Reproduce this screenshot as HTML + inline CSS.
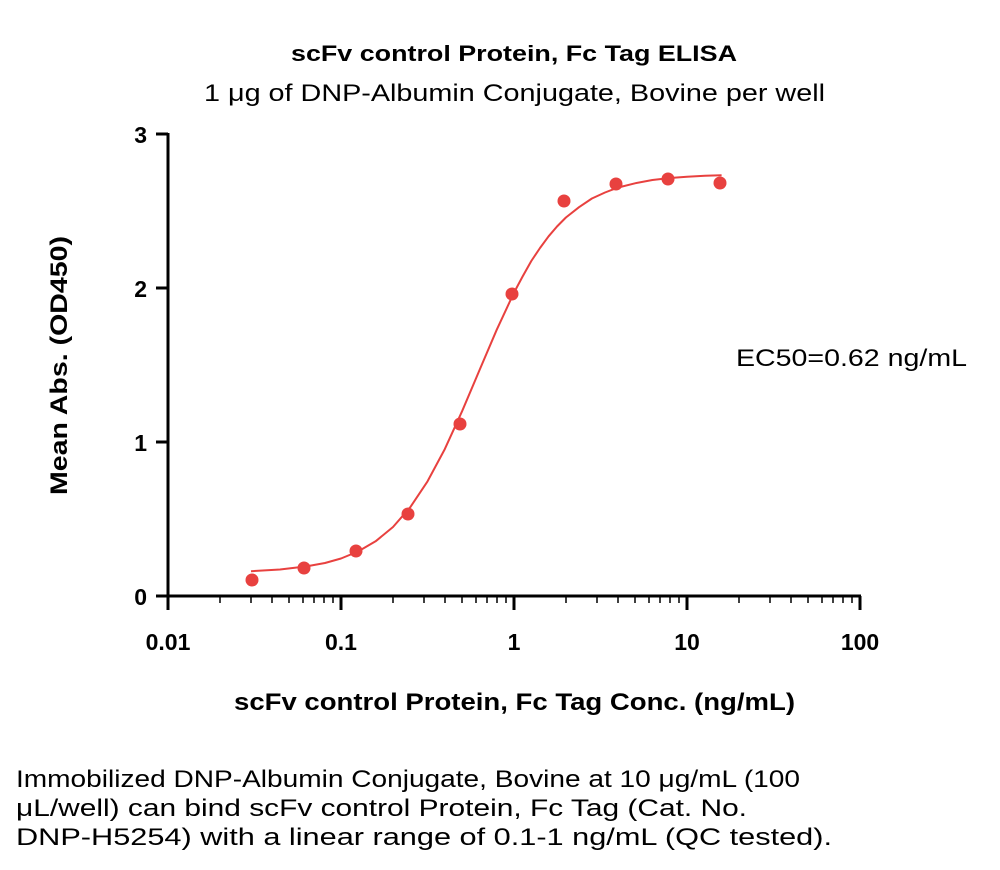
<!DOCTYPE html>
<html><head><meta charset="utf-8"><style>
html,body{margin:0;padding:0;background:#fff;}
body{width:1000px;height:865px;overflow:hidden;}
</style></head><body>
<svg width="1000" height="865" xmlns="http://www.w3.org/2000/svg" font-family="Liberation Sans, DejaVu Sans, sans-serif">
<text x="291" y="61" font-size="22" font-weight="bold" textLength="446" lengthAdjust="spacingAndGlyphs">scFv control Protein, Fc Tag ELISA</text>
<text x="204" y="101" font-size="24" textLength="621" lengthAdjust="spacingAndGlyphs">1 μg of DNP-Albumin Conjugate, Bovine per well</text>
<g stroke="#000" stroke-width="3" fill="none">
<line x1="168" y1="133" x2="168" y2="597"/>
<line x1="167" y1="596" x2="861" y2="596"/>
<line x1="156" y1="134" x2="168" y2="134"/>
<line x1="156" y1="288" x2="168" y2="288"/>
<line x1="156" y1="442" x2="168" y2="442"/>
<line x1="156" y1="596" x2="168" y2="596"/>
<line x1="168" y1="596" x2="168" y2="610"/>
<line x1="341" y1="596" x2="341" y2="610"/>
<line x1="514" y1="596" x2="514" y2="610"/>
<line x1="687" y1="596" x2="687" y2="610"/>
<line x1="860" y1="596" x2="860" y2="610"/>
</g>
<g stroke="#000" stroke-width="1.5">
<line x1="220" y1="596" x2="220" y2="603"/><line x1="251" y1="596" x2="251" y2="603"/><line x1="272" y1="596" x2="272" y2="603"/><line x1="289" y1="596" x2="289" y2="603"/><line x1="303" y1="596" x2="303" y2="603"/><line x1="314" y1="596" x2="314" y2="603"/><line x1="324" y1="596" x2="324" y2="603"/><line x1="333" y1="596" x2="333" y2="603"/>
<line x1="393" y1="596" x2="393" y2="603"/><line x1="424" y1="596" x2="424" y2="603"/><line x1="445" y1="596" x2="445" y2="603"/><line x1="462" y1="596" x2="462" y2="603"/><line x1="476" y1="596" x2="476" y2="603"/><line x1="487" y1="596" x2="487" y2="603"/><line x1="497" y1="596" x2="497" y2="603"/><line x1="506" y1="596" x2="506" y2="603"/>
<line x1="566" y1="596" x2="566" y2="603"/><line x1="597" y1="596" x2="597" y2="603"/><line x1="618" y1="596" x2="618" y2="603"/><line x1="635" y1="596" x2="635" y2="603"/><line x1="649" y1="596" x2="649" y2="603"/><line x1="660" y1="596" x2="660" y2="603"/><line x1="670" y1="596" x2="670" y2="603"/><line x1="679" y1="596" x2="679" y2="603"/>
<line x1="739" y1="596" x2="739" y2="603"/><line x1="770" y1="596" x2="770" y2="603"/><line x1="791" y1="596" x2="791" y2="603"/><line x1="808" y1="596" x2="808" y2="603"/><line x1="822" y1="596" x2="822" y2="603"/><line x1="833" y1="596" x2="833" y2="603"/><line x1="843" y1="596" x2="843" y2="603"/><line x1="852" y1="596" x2="852" y2="603"/>
</g>
<g font-size="23" font-weight="bold" text-anchor="end">
<text x="147" y="143">3</text><text x="147" y="297">2</text><text x="147" y="451">1</text><text x="147" y="605">0</text>
</g>
<g font-size="23" font-weight="bold" text-anchor="middle">
<text x="168" y="650">0.01</text><text x="341" y="650">0.1</text><text x="514" y="650">1</text><text x="687" y="650">10</text><text x="860" y="650">100</text>
</g>
<text x="234" y="710" font-size="24" font-weight="bold" textLength="561" lengthAdjust="spacingAndGlyphs">scFv control Protein, Fc Tag Conc. (ng/mL)</text>
<text transform="translate(67,495) rotate(-90)" font-size="24" font-weight="bold" textLength="259" lengthAdjust="spacingAndGlyphs">Mean Abs. (OD450)</text>
<text x="736" y="366" font-size="24" textLength="231" lengthAdjust="spacingAndGlyphs">EC50=0.62 ng/mL</text>
<polyline fill="none" stroke="#e8413f" stroke-width="2" stroke-linejoin="round" points="251,571.2 280,569.5 306.4,566.4 325,563 341,558.5 358,551.5 375.6,541.3 393,527 410.2,507.3 427.5,481.4 444.8,449.1 462.1,411.2 479.4,370.4 496.7,329.8 514,292.6 522.6,276.5 531.3,261 540,248 548.6,236.3 557,226.5 565.9,217.5 579,207.2 591.9,198.5 605,192.5 617.8,187.6 635,183.3 652.4,180 670,178 687,176.7 705,175.8 721.6,175.3"/>
<g fill="#e8413f">
<circle cx="252" cy="580" r="6.5"/><circle cx="304" cy="568" r="6.5"/><circle cx="356" cy="551" r="6.5"/><circle cx="408" cy="514" r="6.5"/><circle cx="460" cy="424" r="6.5"/><circle cx="512" cy="294" r="6.5"/><circle cx="564" cy="201" r="6.5"/><circle cx="616" cy="184" r="6.5"/><circle cx="668" cy="179" r="6.5"/><circle cx="720" cy="183" r="6.5"/>
</g>
<g font-size="24">
<text x="16" y="787" textLength="784" lengthAdjust="spacingAndGlyphs">Immobilized DNP-Albumin Conjugate, Bovine at 10 μg/mL (100</text>
<text x="16" y="816" textLength="731" lengthAdjust="spacingAndGlyphs">μL/well) can bind scFv control Protein, Fc Tag (Cat. No.</text>
<text x="16" y="845" textLength="816" lengthAdjust="spacingAndGlyphs">DNP-H5254) with a linear range of 0.1-1 ng/mL (QC tested).</text>
</g>
</svg>
</body></html>
